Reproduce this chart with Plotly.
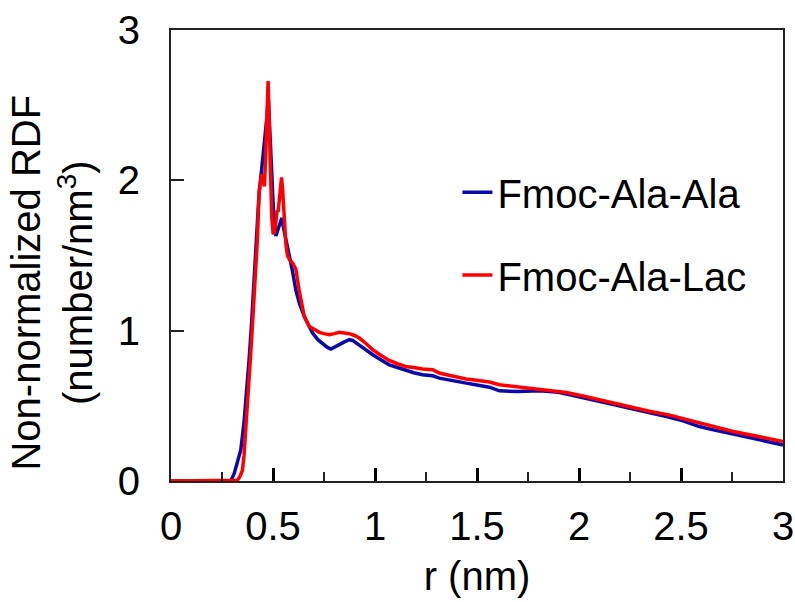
import plotly.graph_objects as go

# Fmoc-Ala-Ala (blue)
r_ala = [0, 0.293, 0.31, 0.325, 0.342, 0.358, 0.37, 0.383, 0.395, 0.407, 0.42, 0.432, 0.445,
         0.456, 0.462, 0.470, 0.477, 0.485, 0.495, 0.505, 0.514, 0.525, 0.535, 0.543, 0.555,
         0.567, 0.579, 0.595, 0.612, 0.63, 0.653, 0.694, 0.72, 0.743, 0.765, 0.784, 0.805,
         0.825, 0.85, 0.874, 0.89, 0.907, 0.95, 0.989, 1.03, 1.07, 1.11, 1.15, 1.19, 1.233,
         1.283, 1.315, 1.357, 1.397, 1.447, 1.479, 1.52, 1.561, 1.61, 1.70, 1.807, 1.90,
         1.938, 2.02, 2.10, 2.18, 2.265, 2.35, 2.429, 2.51, 2.59, 2.67, 2.756, 2.88, 3.0]
g_ala = [0, 0, 0.05, 0.12, 0.207, 0.39, 0.58, 0.81, 1.05, 1.32, 1.62, 1.92, 2.08,
         2.22, 2.29, 2.42, 2.55, 2.3, 1.95, 1.72, 1.63, 1.67, 1.72, 1.75, 1.66,
         1.58, 1.52, 1.40, 1.27, 1.18, 1.095, 0.984, 0.94, 0.913, 0.89, 0.878, 0.89,
         0.907, 0.925, 0.94, 0.935, 0.918, 0.88, 0.84, 0.805, 0.773, 0.755, 0.735, 0.72, 0.707,
         0.70, 0.684, 0.672, 0.662, 0.651, 0.644, 0.634, 0.624, 0.60, 0.595, 0.60, 0.59,
         0.578, 0.555, 0.529, 0.505, 0.478, 0.455, 0.429, 0.40, 0.362, 0.337, 0.311, 0.275, 0.24]

# Fmoc-Ala-Lac (red)
r_lac = [0, 0.31, 0.326, 0.338, 0.35, 0.358, 0.367, 0.375, 0.383, 0.391, 0.399, 0.407, 0.416,
         0.424, 0.432, 0.440, 0.445, 0.452, 0.458, 0.465, 0.471, 0.476, 0.481, 0.487, 0.494,
         0.501, 0.507, 0.514, 0.520, 0.525, 0.531, 0.537, 0.542, 0.548, 0.555, 0.563, 0.571,
         0.582, 0.596, 0.604, 0.612, 0.628, 0.653, 0.677, 0.70, 0.727, 0.75, 0.776, 0.80,
         0.825, 0.85, 0.874, 0.90, 0.923, 0.956, 0.989, 1.03, 1.07, 1.11, 1.15, 1.19, 1.233,
         1.283, 1.315, 1.357, 1.397, 1.447, 1.479, 1.52, 1.561, 1.61, 1.70, 1.807, 1.90,
         1.938, 2.02, 2.10, 2.18, 2.265, 2.35, 2.44, 2.51, 2.59, 2.67, 2.756, 2.88, 3.0]
g_lac = [0, 0, 0.005, 0.03, 0.07, 0.17, 0.34, 0.50, 0.65, 0.85, 1.03, 1.2, 1.36,
         1.62, 1.92, 2.01, 2.04, 2.0, 1.96, 2.2, 2.55, 2.66, 2.4, 2.05, 1.75,
         1.64, 1.66, 1.72, 1.80, 1.79, 1.88, 1.98, 2.02, 1.92, 1.72, 1.58, 1.50,
         1.47, 1.45, 1.43, 1.41, 1.27, 1.095, 1.03, 1.01, 0.989, 0.98, 0.973, 0.98,
         0.989, 0.985, 0.98, 0.968, 0.951, 0.915, 0.873, 0.835, 0.802, 0.78, 0.762, 0.755, 0.745,
         0.74, 0.718, 0.705, 0.691, 0.678, 0.673, 0.665, 0.658, 0.64, 0.625, 0.607, 0.595,
         0.589, 0.565, 0.54, 0.512, 0.484, 0.462, 0.44, 0.415, 0.384, 0.357, 0.329, 0.296, 0.262]

FONT = "Liberation Sans, Arial, sans-serif"
FS = 40

fig = go.Figure()
fig.add_trace(go.Scatter(x=r_ala, y=g_ala, mode="lines", name="Fmoc-Ala-Ala",
                         line=dict(color="#0A0AAA", width=3.5), legend="legend"))
fig.add_trace(go.Scatter(x=r_lac, y=g_lac, mode="lines", name="Fmoc-Ala-Lac",
                         line=dict(color="#FF0000", width=3.5), legend="legend2"))

leg_common = dict(font=dict(family=FONT, size=FS, color="black"), bgcolor="rgba(0,0,0,0)",
                  xanchor="left", yanchor="middle", borderwidth=0)
fig.update_layout(
    template="none",
    width=795, height=602,
    margin=dict(l=171, r=12, t=30, b=121),
    paper_bgcolor="white", plot_bgcolor="white",
    font=dict(family=FONT, size=FS, color="black"),
    showlegend=True,
    legend=dict(x=0.468, y=0.640, **leg_common),
    legend2=dict(x=0.468, y=0.457, **leg_common),
    xaxis=dict(range=[0, 3], tickmode="linear", tick0=0, dtick=0.5, ticks="inside", ticklen=13,
               tickwidth=2.5, tickcolor="#000000", showline=True, linecolor="#222222", linewidth=2,
               mirror=True, showgrid=False, zeroline=False, ticklabelstandoff=9, automargin=False,
               minor=dict(tickmode="linear", tick0=0, dtick=0.25, ticks="inside", ticklen=9,
                          tickwidth=2, tickcolor="#222222", showgrid=False),
               title=dict(text="r (nm)", font=dict(size=FS), standoff=15)),
    yaxis=dict(range=[0, 3], tickmode="linear", tick0=0, dtick=1, ticks="inside", ticklen=13,
               tickwidth=2, tickcolor="#222222", showline=True, linecolor="#222222", linewidth=2,
               mirror=True, showgrid=False, zeroline=False, ticklabelstandoff=21, automargin=False),
    annotations=[dict(text="Non-normalized RDF<br>(number/nm<sup>3</sup>)", textangle=-90,
                      xref="paper", yref="y", x=0, y=1.32, xshift=-119, xanchor="center",
                      yanchor="middle", showarrow=False, font=dict(family=FONT, size=FS, color="black"))],
)

fig.write_html("out.html", config={"displayModeBar": False},
               post_script="document.body.style.margin='0';")
